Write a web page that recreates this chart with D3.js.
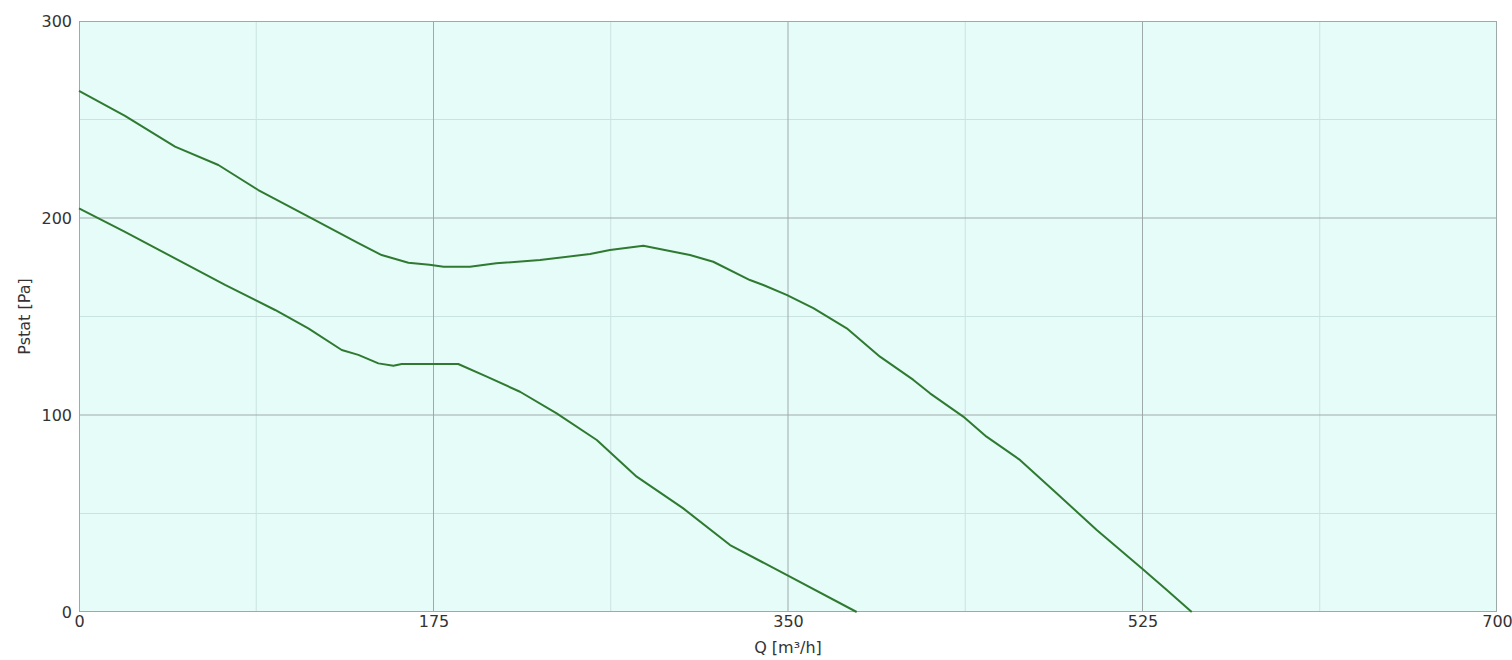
<!DOCTYPE html>
<html>
<head>
<meta charset="utf-8">
<script src="https://cdn.jsdelivr.net/npm/d3@7"></script>
<style>
  body { margin: 0; background: #fff; }
  svg text { font-family: "DejaVu Sans", Verdana, sans-serif; fill: #333; }
</style>
</head>
<body>
<div class="chart"></div>
<script>
// data
let xTicks = [0, 175, 350, 525, 700]
let yTicks = [0, 100, 200, 300]
let xMinor = [87.5, 262.5, 437.5, 612.5]
let yMinor = [50, 150, 250]

let qUpper = [0, 22.7, 47.4, 68.8, 88.5, 114.9, 137.9, 149.4, 162.6, 173, 180, 193, 206, 227.6, 252.3, 262.1, 278.6, 301.6, 313.1, 331.2, 337.8, 349.3, 362.5, 379, 395.4, 411.9, 420.1, 436.5, 448, 464.5, 482.6, 502.4, 524.6, 537, 549.3]
let pUpper = [264.5, 251.8, 236.2, 226.9, 214.2, 199.8, 187.2, 181.2, 177.3, 176.3, 175.3, 175.3, 177, 178.7, 181.7, 183.8, 185.9, 181.2, 177.8, 168.5, 166, 161, 154.2, 144, 129.6, 117.8, 111, 99.2, 89, 77.2, 60.3, 41.6, 22.2, 11.2, 0]

let qLower = [0, 22.7, 47.4, 72.1, 96.8, 113.2, 129.7, 137.9, 147.8, 155.2, 159.3, 187.2, 201.3, 217.7, 235.8, 255.6, 275.3, 298.3, 321.4, 349.3, 383.9]
let pLower = [204.9, 193, 179.5, 166, 153.3, 144, 133, 130.5, 126.2, 125, 125.9, 125.9, 119.5, 111.8, 100.8, 87.3, 68.7, 52.6, 34, 18.8, 0]

let W = 1512, H = 660
let mLeft = 79, mRight = 1497, mTop = 21, mBottom = 612

let svg = d3.select(".chart")
    .append("svg")
    .attr("width", W)
    .attr("height", H)

let x = d3.scaleLinear().domain([0, 700]).range([mLeft, mRight])
let y = d3.scaleLinear().domain([0, 300]).range([mBottom, mTop])

// plot background
svg.append("rect")
    .attr("x", mLeft)
    .attr("y", mTop)
    .attr("width", mRight - mLeft)
    .attr("height", mBottom - mTop)
    .attr("fill", "#e6fcf9")

// minor grid
svg.append("g").selectAll("line")
    .data(xMinor)
    .enter()
    .append("line")
    .attr("x1", d => x(d)).attr("x2", d => x(d))
    .attr("y1", mTop).attr("y2", mBottom)
    .attr("stroke", "#cbe3e0")
svg.append("g").selectAll("line")
    .data(yMinor)
    .enter()
    .append("line")
    .attr("x1", mLeft).attr("x2", mRight)
    .attr("y1", d => y(d)).attr("y2", d => y(d))
    .attr("stroke", "#cbe3e0")

// major grid
svg.append("g").selectAll("line")
    .data(xTicks.slice(1, -1))
    .enter()
    .append("line")
    .attr("x1", d => x(d)).attr("x2", d => x(d))
    .attr("y1", mTop).attr("y2", mBottom)
    .attr("stroke", "#9eaaa9")
svg.append("g").selectAll("line")
    .data(yTicks.slice(1, -1))
    .enter()
    .append("line")
    .attr("x1", mLeft).attr("x2", mRight)
    .attr("y1", d => y(d)).attr("y2", d => y(d))
    .attr("stroke", "#9eaaa9")

// frame
svg.append("rect")
    .attr("x", mLeft + 0.5)
    .attr("y", mTop + 0.5)
    .attr("width", mRight - mLeft - 1)
    .attr("height", mBottom - mTop - 1)
    .attr("fill", "none")
    .attr("stroke", "#9eaaa9")

// axes (labels only)
let xAxis = svg.append("g")
    .attr("transform", "translate(0," + (mBottom + 4) + ")")
    .call(d3.axisBottom(x).tickValues(xTicks).tickSize(0).tickPadding(0))
xAxis.select(".domain").remove()
xAxis.attr("font-family", null)
xAxis.selectAll("text").attr("font-size", 16).attr("fill", "#333")

let yAxis = svg.append("g")
    .attr("transform", "translate(" + (mLeft - 7) + ",0)")
    .call(d3.axisLeft(y).tickValues(yTicks).tickSize(0).tickPadding(0))
yAxis.select(".domain").remove()
yAxis.attr("font-family", null)
yAxis.selectAll("text").attr("font-size", 16).attr("fill", "#333")

// axis titles
svg.append("text")
    .attr("x", (mLeft + mRight) / 2)
    .attr("y", 653)
    .attr("text-anchor", "middle")
    .attr("font-size", 16)
    .text("Q [m³/h]")

svg.append("text")
    .attr("transform", "translate(30," + (mTop + mBottom) / 2 + ") rotate(-90)")
    .attr("text-anchor", "middle")
    .attr("font-size", 16)
    .text("Pstat [Pa]")

// curves
let line = d3.line()
    .x(d => x(d[0]))
    .y(d => y(d[1]))

let curves = [d3.zip(qUpper, pUpper), d3.zip(qLower, pLower)]

svg.append("g").selectAll("path")
    .data(curves)
    .enter()
    .append("path")
    .attr("d", d => line(d))
    .attr("fill", "none")
    .attr("stroke", "#2f7a30")
    .attr("stroke-width", 2)
    .attr("stroke-linejoin", "round")
</script>
</body>
</html>
